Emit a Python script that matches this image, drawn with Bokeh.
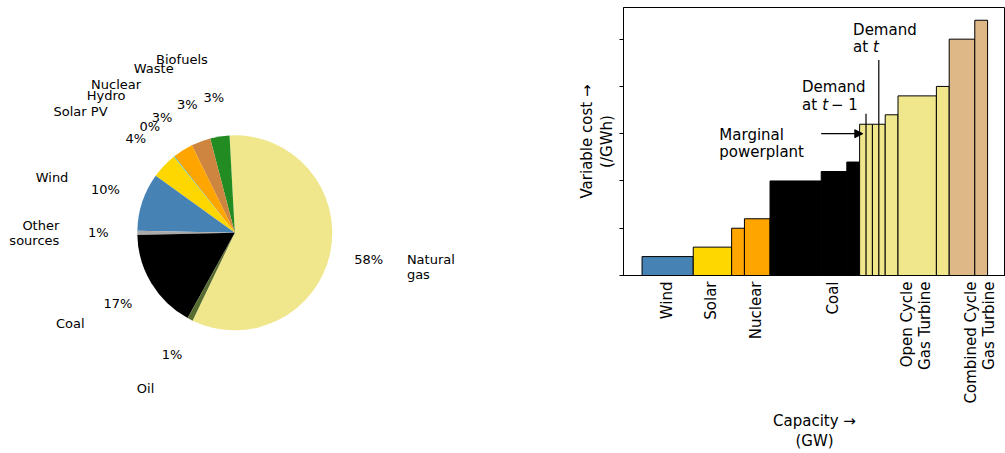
import math
import numpy as np
from bokeh.plotting import figure
from bokeh.layouts import row
from bokeh.models import ColumnDataSource, Range1d, FixedTicker, Label, Arrow, NormalHead
from bokeh.embed import file_html
from bokeh.resources import INLINE
from bokeh.core.properties import value

FONT = "DejaVu Sans"

# ---------------- data: electricity mix (pie) ----------------
mix_sources = ["Natural\ngas", "Biofuels", "Waste", "Nuclear", "Hydro",
               "Solar PV", "Wind", "Other\nsources", "Coal", "Oil"]
mix_share = [58.0, 3.2, 3.2, 3.4, 0.1, 4.3, 9.6, 0.7, 16.6, 0.9]
mix_colors = ["#F0E68C", "#228B22", "#CD853F", "#FFA500", "#00BFFF",
              "#FFD700", "#4682B4", "#A9A9A9", "#000000", "#556B2F"]

# ---------------- data: merit order (bars) ----------------
bar_capacity = [4, 3, 1, 2, 4, 2, 1, 1, 1, 1, 3, 1, 2, 1]
bar_cost = [0.4, 0.6, 1.0, 1.2, 2.0, 2.2, 2.4, 3.2, 3.2, 3.4, 3.8, 4.0, 5.0, 5.4]
bar_colors = ["#4682B4", "#FFD700", "#FFA500", "#FFA500", "#000000", "#000000",
              "#000000", "#F0E68C", "#F0E68C", "#F0E68C", "#F0E68C", "#F0E68C",
              "#DEB887", "#DEB887"]
tech_labels = ["Wind", "Solar", "Nuclear", "Coal",
               "Open Cycle\nGas Turbine", "Combined Cycle\nGas Turbine"]
tech_label_pos = [1.95, 5.4, 8.9, 14.9, 21.4, 26.4]
cost_ticks = [0, 1, 2, 3, 4, 5]
demand_x = [17.5, 18.5]
demand_top = [3.42, 4.56]
marginal_y = 3.0

# ---------------- layout constants ----------------
W_TOTAL, H = 1005, 453
W1 = 470
W2 = W_TOTAL - W1
R_PX = 97.5
CX_PX, CY_PX = 234.3, 232.3
START_DEG = 244.3
LABEL_DIST, PCT_DIST = 1.8, 1.4


def no_align(p):
    try:
        p.frame_align = False
    except Exception:
        pass


# ---------------- pie ----------------
x0 = -CX_PX / R_PX
y1 = CY_PX / R_PX
p1 = figure(width=W1, height=H,
            x_range=Range1d(x0, x0 + W1 / R_PX), y_range=Range1d(y1 - H / R_PX, y1),
            x_axis_type=None, y_axis_type=None, toolbar_location=None,
            output_backend="svg", min_border=0, outline_line_color=None)
no_align(p1)

shares = np.array(mix_share, dtype=float)
frac = shares / shares.sum()
ends = np.deg2rad(START_DEG) + 2 * np.pi * np.cumsum(frac)
starts = ends - 2 * np.pi * frac
mids = (starts + ends) / 2

wsrc = ColumnDataSource(dict(start=starts, end=ends, color=mix_colors))
p1.wedge(x=0, y=0, radius=1, start_angle="start", end_angle="end",
         fill_color="color", line_color=None, source=wsrc)

for side, align in ((1, "left"), (-1, "right")):
    idx = [i for i in range(len(mids)) if (np.cos(mids[i]) >= 0) == (side > 0)]
    src = ColumnDataSource(dict(
        x=[LABEL_DIST * np.cos(mids[i]) for i in idx],
        y=[LABEL_DIST * np.sin(mids[i]) for i in idx],
        t=[mix_sources[i] for i in idx]))
    p1.text(x="x", y="y", text="t", source=src, text_align=align,
            text_baseline="middle", text_font=value(FONT),
            text_font_size="13px", text_color="black", text_line_height=1.0)

psrc = ColumnDataSource(dict(
    x=PCT_DIST * np.cos(mids), y=PCT_DIST * np.sin(mids),
    t=[f"{v:.0f}%" for v in frac * 100]))
p1.text(x="x", y="y", text="t", source=psrc, text_align="center",
        text_baseline="middle", text_font=value(FONT),
        text_font_size="13px", text_color="black")

# ---------------- merit order ----------------
p2 = figure(width=W2, height=H, x_range=Range1d(-1.45, 28.4), y_range=Range1d(0, 5.67),
            toolbar_location=None, output_backend="svg",
            min_border_left=153, min_border_right=0, min_border_top=7,
            min_border_bottom=178)
no_align(p2)
p2.grid.visible = False
p2.outline_line_color = "black"
p2.outline_line_alpha = 1.0
p2.outline_line_width = 1

rights = np.cumsum(bar_capacity).astype(float)
lefts = rights - np.array(bar_capacity, dtype=float)
bsrc = ColumnDataSource(dict(left=lefts, right=rights, top=bar_cost, color=bar_colors))
p2.quad(left="left", right="right", bottom=0, top="top", fill_color="color",
        line_color="black", line_width=1, source=bsrc)

p2.segment(x0=demand_x, y0=[0, 0], x1=demand_x, y1=demand_top,
           line_color="black", line_width=1.2)

p2.add_layout(Arrow(x_start=14.0, y_start=marginal_y, x_end=17.25, y_end=marginal_y,
                    line_color="black", line_width=1.3,
                    end=NormalHead(size=8, fill_color="black", line_color="black")))


def lab(x, y, text, style="normal"):
    p2.add_layout(Label(x=x, y=y, text=text, text_font=FONT, text_font_size="15px",
                        text_font_style=style, text_color="black",
                        text_baseline="alphabetic", text_align="left"))


lab(6.04, 2.973, "Marginal")
lab(6.04, 2.606, "powerplant")
lab(12.5, 3.986, "Demand")
lab(12.5, 3.617, "at")
lab(14.08, 3.617, "t", "italic")
lab(14.76, 3.617, "− 1")
lab(16.49, 5.188, "Demand")
lab(16.49, 4.827, "at")
lab(18.05, 4.827, "t", "italic")

# axes
xa = p2.xaxis[0]
xa.ticker = FixedTicker(ticks=tech_label_pos, minor_ticks=[])
xa.major_label_overrides = {p: t for p, t in zip(tech_label_pos, tech_labels)}
xa.major_label_orientation = math.pi / 2
xa.major_tick_out = 0
xa.major_tick_in = 0
xa.minor_tick_out = 0
xa.minor_tick_in = 0
xa.major_label_standoff = 6
xa.major_label_text_line_height = 1.03
xa.axis_label = "Capacity →\n(GW)"
xa.axis_label_standoff = 6

ya = p2.yaxis[0]
ya.ticker = FixedTicker(ticks=cost_ticks, minor_ticks=[])
ya.major_label_overrides = {t: "" for t in cost_ticks}
ya.major_tick_out = 4
ya.major_tick_in = 0
ya.minor_tick_out = 0
ya.minor_tick_in = 0
ya.axis_label = "Variable cost →\n(/GWh)"
ya.axis_label_standoff = 4

for ax in (xa, ya):
    ax.axis_line_color = "black"
    ax.major_tick_line_color = "black"
    ax.major_label_text_font = FONT
    ax.major_label_text_font_size = "15px"
    ax.major_label_text_color = "black"
    ax.axis_label_text_font = FONT
    ax.axis_label_text_font_size = "15px"
    ax.axis_label_text_font_style = "normal"
    ax.axis_label_text_color = "black"
    ax.axis_label_text_line_height = 1.1

layout = row(p1, p2, spacing=0)
open("out.html", "w").write(file_html(layout, INLINE))
